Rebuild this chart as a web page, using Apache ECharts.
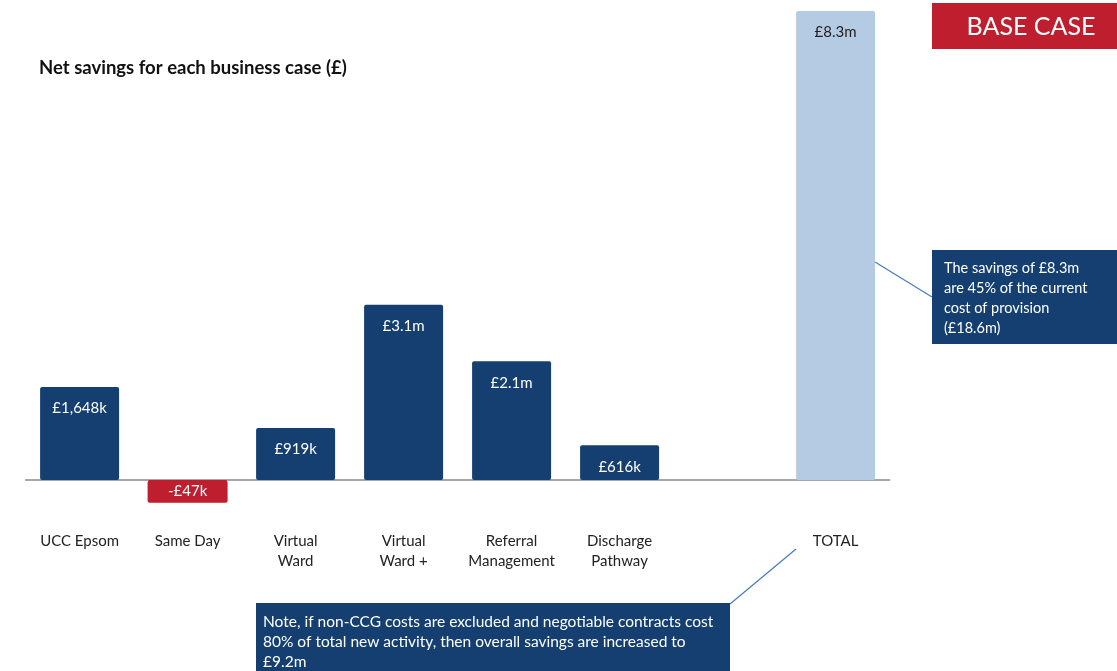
<!DOCTYPE html>
<html>
<head>
<meta charset="utf-8">
<script src="https://cdn.jsdelivr.net/npm/echarts@6/dist/echarts.min.js"></script>
<style>
  html, body { margin: 0; padding: 0; background: #fff; }
  #chart { width: 1117px; height: 671px; }
</style>
</head>
<body>
<div id="chart"></div>
<script>
// Net savings per business case, in £ thousands
const categories = ['UCC Epsom', 'Same Day', 'Virtual\nWard', 'Virtual\nWard +', 'Referral\nManagement', 'Discharge\nPathway', '', 'TOTAL'];
const savings = [1648, -47, 919, 3100, 2100, 616, null, 8300];
const barKinds = ['case', 'loss', 'case', 'case', 'case', 'case', 'none', 'total'];

const titleText = 'Net savings for each business case (£)';
const badgeText = 'BASE CASE';
const totalNote = ['The savings of £8.3m', 'are 45% of the current', 'cost of provision', '(£18.6m)'];
const footNote = ['Note, if non-CCG costs are excluded and negotiable contracts cost', '80% of total new activity, then overall savings are increased to', '£9.2m'];

const NAVY = '#143f70';
const RED = '#be1e2d';
const LIGHT = '#b5cbe3';
const FONT = 'Lato, "Open Sans", sans-serif';

function money(v) {
  const sign = v < 0 ? '-' : '';
  const a = Math.abs(v);
  if (a >= 2000) return sign + '£' + (a / 1000).toFixed(1) + 'm';
  return sign + '£' + a.toLocaleString('en-GB') + 'k';
}

const barData = savings.map((v, i) => {
  const kind = barKinds[i];
  if (v === null) return { value: null };
  const item = { value: v, itemStyle: { color: kind === 'total' ? LIGHT : (kind === 'loss' ? RED : NAVY) } };
  if (kind === 'total') {
    item.label = { color: '#222' };
  }
  if (kind === 'loss') {
    item.label = {
      position: 'bottom', distance: -2, color: '#fff',
      backgroundColor: RED, borderRadius: 2,
      width: 80, height: 22, align: 'center', lineHeight: 22
    };
  }
  return item;
});

const chart = echarts.init(document.getElementById('chart'));
chart.setOption({
  animation: false,
  backgroundColor: '#fff',
  grid: { left: 25.6, right: 227.4, top: 11, height: 480.3, containLabel: false },
  xAxis: {
    type: 'category',
    data: categories,
    axisLine: { onZero: true, lineStyle: { color: '#8a8a8a', width: 1.5 } },
    axisTick: { show: false },
    axisLabel: { margin: 40, color: '#222', fontFamily: FONT, fontSize: 15, lineHeight: 20, interval: 0 }
  },
  yAxis: {
    type: 'value', min: -200, max: 8300, show: false,
    splitLine: { show: false }
  },
  series: [{
    type: 'bar',
    data: barData,
    barWidth: 79,
    itemStyle: { borderRadius: 2 },
    label: {
      show: true, position: 'insideTop', distance: 14,
      color: '#fff', fontFamily: FONT, fontSize: 15,
      formatter: p => money(p.value)
    }
  }],
  graphic: [
    { type: 'text', left: 39, top: 59, style: { text: titleText, font: 'bold 18.5px ' + FONT, fill: '#111' } },
    { type: 'rect', shape: { x: 932, y: 3, width: 190, height: 46 }, style: { fill: RED } },
    { type: 'text', x: 1031, y: 27, style: { text: badgeText, font: '25px ' + FONT, fill: '#fff', align: 'center', verticalAlign: 'middle' } },
    { type: 'line', shape: { x1: 875, y1: 262, x2: 932, y2: 297 }, style: { stroke: '#4a7ebb', lineWidth: 1.3 } },
    { type: 'rect', shape: { x: 932, y: 250, width: 190, height: 94 }, style: { fill: NAVY } },
    { type: 'text', x: 944, y: 258, style: { text: totalNote.join('\n'), font: '14.5px ' + FONT, lineHeight: 20, fill: '#fff' } },
    { type: 'line', shape: { x1: 730, y1: 604, x2: 796, y2: 549 }, style: { stroke: '#4a7ebb', lineWidth: 1.3 } },
    { type: 'rect', shape: { x: 256, y: 603, width: 474, height: 70 }, style: { fill: NAVY } },
    { type: 'text', x: 263, y: 612, style: { text: footNote.join('\n'), font: '15.5px ' + FONT, lineHeight: 20, fill: '#fff' } }
  ]
});
</script>
</body>
</html>
